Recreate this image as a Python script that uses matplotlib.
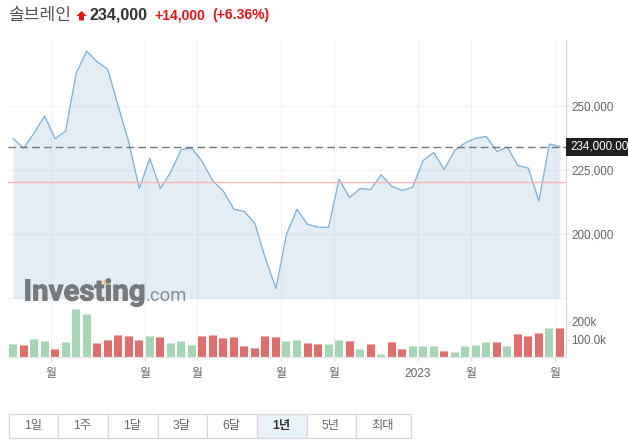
#!/usr/bin/env python3
"""One-year price and volume chart for Soulbrain with range selector buttons."""

import matplotlib

matplotlib.use("Agg")
import matplotlib.patheffects as effects
import matplotlib.pyplot as plt
from matplotlib.patches import Polygon, Rectangle

WIDTH, HEIGHT = 628, 444
FONT = ["Liberation Sans", "Noto Sans CJK KR"]

PRICES = [
    237200, 233400, 239300, 246000, 237100, 240100, 262700, 271400, 267200, 264300,
    249900, 235800, 217600, 229400, 217600, 224100, 232900, 233400, 228100, 220600,
    216600, 209500, 208600, 203900, 190200, 178500, 199700, 209500, 203600, 202500,
    202400, 221200, 214100, 217600, 217200, 223000, 218500, 216900, 218100, 228600,
    231700, 225100, 232500, 235500, 237300, 238000, 232100, 233900, 226600, 225600,
    212700, 235000, 234000,
]
VOLUMES = [
    75, 69, 103, 92, 47, 86, 272, 243, 81, 97, 125, 120, 97, 120, 114, 81, 92, 69,
    120, 125, 109, 114, 64, 52, 120, 114, 92, 97, 81, 75, 75, 97, 92, 47, 75, 19,
    86, 47, 64, 64, 64, 36, 30, 64, 69, 86, 86, 64, 131, 120, 137, 165, 165,
]
# g = green bar, r = red bar
VOLUME_COLORS = "grggrgggrrrrrgrgggrrrrrrrrggrrggrgrgrrgggrggggrgrrrgr"

LAST_PRICE = 234000
PREV_CLOSE = 220000
PRICE_TICKS = [200000, 225000, 250000]
VOLUME_TICKS = [100, 200]
VOLUME_TICK_LABELS = ["100.0k", "200k"]
MONTH_TICKS = [3.6, 12.5, 17.5, 25.5, 30.5, 38.5, 43.5, 51.5]
MONTH_LABELS = ["월", "월", "월", "월", "월", "2023", "월", "월"]
RANGES = ["1일", "1주", "1달", "3달", "6달", "1년", "5년", "최대"]
SELECTED_RANGE = "1년"
RANGE_EDGES = [8.5, 57.5, 107.5, 157.5, 206.5, 256.5, 306.5, 355.5, 410.5]

GRID = "#f1f2f5"
AXIS = "#d6d8dc"
TEXT = "#666666"
COLORS = {"g": ("#a6d5b5", "#cfe8d6"), "r": ("#e26d6d", "#efaaaa")}


def add_axes_px(fig, left, top, right, bottom):
    return fig.add_axes([left / WIDTH, 1 - bottom / HEIGHT,
                         (right - left) / WIDTH, (bottom - top) / HEIGHT])


def style_axes(ax):
    for side in ("top", "left", "bottom"):
        ax.spines[side].set_visible(False)
    ax.spines["right"].set_color(AXIS)
    ax.spines["right"].set_linewidth(0.8)
    ax.yaxis.tick_right()
    ax.tick_params(axis="y", length=3, width=0.7, color=AXIS, labelsize=8.4,
                   labelcolor=TEXT, pad=0.8)
    ax.set_xlim(-0.48, 52.55)
    ax.set_xticks(MONTH_TICKS)
    ax.grid(True, color=GRID, linewidth=0.8)
    ax.set_axisbelow(True)


def draw_price(ax):
    xs = range(len(PRICES))
    ax.fill_between(xs, PRICES, 170000, color="#7aa5cc", alpha=0.2, linewidth=0)
    ax.plot(xs, PRICES, color="#7db1d9", linewidth=0.95)
    ax.axhline(PREV_CLOSE, color="#f9b5b5", linewidth=1.0)
    ax.axhline(LAST_PRICE, color="#777777", linewidth=1.0, dashes=(5.5, 3))
    ax.set_ylim(174260, 275740)
    ax.set_yticks(PRICE_TICKS, [f"{tick:,}" for tick in PRICE_TICKS])
    ax.tick_params(axis="x", length=0, labelbottom=False)
    ax.spines["bottom"].set_visible(True)
    ax.spines["bottom"].set_color("#c9ccd1")
    ax.spines["bottom"].set_linewidth(1.0)


def draw_volume(ax):
    xs = range(len(VOLUMES))
    fills = [COLORS[key][0] for key in VOLUME_COLORS]
    caps = [COLORS[key][1] for key in VOLUME_COLORS]
    ax.bar(xs, VOLUMES, width=0.76, color=fills, linewidth=0)
    ax.bar(xs, [5] * len(VOLUMES), bottom=[v - 5 for v in VOLUMES], width=0.76,
           color=caps, linewidth=0)
    ax.set_ylim(0, 326)
    ax.set_yticks(VOLUME_TICKS, VOLUME_TICK_LABELS)
    ax.set_xticks(MONTH_TICKS, MONTH_LABELS)
    ax.tick_params(axis="x", length=3, width=0.7, color=AXIS, labelsize=8.6,
                   labelcolor=TEXT, pad=4.5)
    ax.grid(False, axis="y")
    ax.spines["bottom"].set_visible(True)
    ax.spines["bottom"].set_color("#e3e5e8")
    ax.spines["bottom"].set_linewidth(0.9)


def draw_header(ax):
    ax.text(8, 15, "솔브레인", fontsize=12.3, color="#555555", va="center",
            family="Noto Sans CJK KR")
    ax.add_patch(Polygon([(81.5, 11), (86.5, 16), (84, 16), (84, 20.5), (79, 20.5),
                          (79, 16), (76.5, 16)], closed=True, color="#f01010", lw=0))
    ax.text(90, 15, f"{LAST_PRICE:,}", fontsize=11.6, fontweight="bold",
            color="#333333", va="center")
    ax.text(154, 15.5, "+14,000", fontsize=10, fontweight="bold", color="#ee1111",
            va="center")
    ax.text(212, 15.5, "(+6.36%)", fontsize=10, fontweight="bold", color="#ee1111",
            va="center")


def draw_watermark(ax):
    heavier = [effects.withStroke(linewidth=0.7, foreground="#777a7c")]
    ax.text(23.5, 300.5, "Investing", fontsize=21.2, fontweight="bold", color="#777a7c",
            family="Roboto", va="baseline", path_effects=heavier)
    ax.text(146, 300.5, ".com", fontsize=13.2, color="#8b8e90", family="Roboto",
            va="baseline")
    ax.add_patch(Polygon([(103.5, 280), (110, 278), (110, 284.5), (103.5, 284.5)],
                         closed=True, color="#efc478", lw=0))


def draw_last_label(ax):
    ax.add_patch(Rectangle((565.5, 137.7), 62.5, 18, color="#1f1f1f", lw=0))
    ax.text(570.5, 146.8, f"{LAST_PRICE:,}.00", fontsize=8.4, color="white", va="center")


def draw_ranges(ax):
    top, bottom = 413.7, 438.3
    for label, left, right in zip(RANGES, RANGE_EDGES, RANGE_EDGES[1:]):
        selected = label == SELECTED_RANGE
        ax.add_patch(Rectangle((left, top), right - left, bottom - top,
                               facecolor="#eaf2fa" if selected else "white",
                               edgecolor="#d8d8d8", linewidth=0.9))
        ax.text((left + right) / 2, 426, label, ha="center", va="center", fontsize=8.8,
                color="#333333" if selected else "#666666",
                fontweight="bold" if selected else "normal")


def main():
    plt.rcParams["font.family"] = FONT
    fig = plt.figure(figsize=(WIDTH / 100, HEIGHT / 100), dpi=100)

    price_ax = add_axes_px(fig, 8, 40, 565.7, 299.3)
    volume_ax = add_axes_px(fig, 8, 299.3, 565.7, 357.3)
    style_axes(price_ax)
    style_axes(volume_ax)
    draw_price(price_ax)
    draw_volume(volume_ax)

    # Pixel-space layer for the header, watermark, price tag and range buttons
    overlay = fig.add_axes([0, 0, 1, 1], zorder=5)
    overlay.set_xlim(0, WIDTH)
    overlay.set_ylim(HEIGHT, 0)
    overlay.axis("off")
    draw_header(overlay)
    draw_watermark(overlay)
    draw_last_label(overlay)
    draw_ranges(overlay)

    fig.savefig("out.png", dpi=100)


if __name__ == "__main__":
    main()
